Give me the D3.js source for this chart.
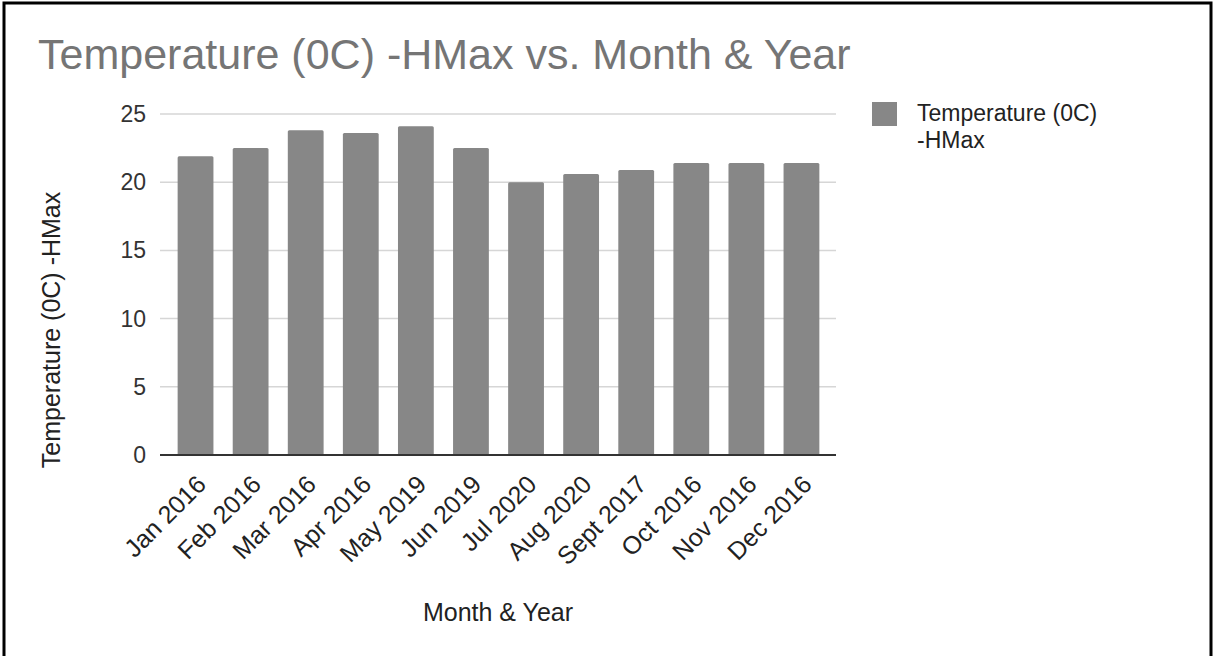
<!DOCTYPE html>
<html>
<head>
<meta charset="utf-8">
<script src="https://cdn.jsdelivr.net/npm/d3@7"></script>
<style>
  body { margin: 0; background: #fff; }
  text { font-family: "Liberation Sans", Arial, sans-serif; }
</style>
</head>
<body>
<script>
var months = ["Jan 2016", "Feb 2016", "Mar 2016", "Apr 2016", "May 2019", "Jun 2019",
              "Jul 2020", "Aug 2020", "Sept 2017", "Oct 2016", "Nov 2016", "Dec 2016"];
var hmax = [21.9, 22.5, 23.8, 23.6, 24.1, 22.5, 20.0, 20.6, 20.9, 21.4, 21.4, 21.4];
var yTicks = [0, 5, 10, 15, 20, 25];
var seriesName = "Temperature (0C) -HMax";

var width = 1225, height = 656;

var svg = d3.select("body")
            .append("svg")
            .attr("width", width)
            .attr("height", height);

svg.append("rect")
   .attr("width", width).attr("height", height)
   .style("fill", "#fff");

// frame: left, top, right (bottom is cut off in the picture)
svg.append("path")
   .attr("d", "M4,660 L4,3 L1211,3 L1211,660")
   .style("fill", "none")
   .style("stroke", "#000")
   .style("stroke-width", 3);

var plotLeft = 160, plotRight = 836, plotTop = 114, plotBottom = 455;

var x = d3.scaleBand()
          .domain(months)
          .range([168, 829])
          .paddingInner(0.35)
          .paddingOuter(0.175);

var y = d3.scaleLinear()
          .domain([0, 25])
          .range([plotBottom, plotTop]);

// gridlines
svg.append("g")
   .selectAll("line")
   .data(yTicks.filter(function(d) { return d > 0; }))
   .enter()
   .append("line")
   .attr("x1", plotLeft).attr("x2", plotRight)
   .attr("y1", function(d) { return y(d); })
   .attr("y2", function(d) { return y(d); })
   .style("stroke", "#d6d6d6")
   .style("stroke-width", 1.5);

// y tick labels
svg.append("g")
   .selectAll("text")
   .data(yTicks)
   .enter()
   .append("text")
   .attr("x", 146)
   .attr("y", function(d) { return y(d) + 8; })
   .attr("text-anchor", "end")
   .style("font-size", "23px")
   .style("fill", "#333")
   .text(function(d) { return d; });

// bars
svg.append("g")
   .selectAll("rect")
   .data(hmax)
   .enter()
   .append("rect")
   .attr("x", function(d, i) { return x(months[i]); })
   .attr("y", function(d) { return y(d); })
   .attr("width", x.bandwidth())
   .attr("height", function(d) { return y(0) - y(d); })
   .attr("rx", 1.5)
   .style("fill", "#878787");

// baseline
svg.append("line")
   .attr("x1", plotLeft).attr("x2", plotRight)
   .attr("y1", y(0)).attr("y2", y(0))
   .style("stroke", "#333")
   .style("stroke-width", 2);

// x tick labels, rotated
svg.append("g")
   .selectAll("text")
   .data(months)
   .enter()
   .append("text")
   .attr("transform", function(d) {
       var cx = x(d) + x.bandwidth() / 2 + 12;
       return "translate(" + cx + "," + 486 + ") rotate(-45)";
   })
   .attr("text-anchor", "end")
   .style("font-size", "25px")
   .style("fill", "#222")
   .text(function(d) { return d; });

// title
svg.append("text")
   .attr("x", 38).attr("y", 69)
   .style("font-size", "43px")
   .style("fill", "#757575")
   .text(seriesName + " vs. Month & Year");

// axis titles
svg.append("text")
   .attr("x", 498).attr("y", 621)
   .attr("text-anchor", "middle")
   .style("font-size", "25px")
   .style("fill", "#222")
   .text("Month & Year");

svg.append("text")
   .attr("transform", "translate(60,330) rotate(-90)")
   .attr("text-anchor", "middle")
   .style("font-size", "25px")
   .style("fill", "#222")
   .text(seriesName);

// legend
var legend = svg.append("g").attr("transform", "translate(872,102)");
legend.append("rect")
      .attr("width", 25).attr("height", 24)
      .style("fill", "#878787");
legend.append("text")
      .attr("x", 45).attr("y", 19)
      .style("font-size", "23px")
      .style("fill", "#222")
      .text("Temperature (0C)");
legend.append("text")
      .attr("x", 45).attr("y", 46)
      .style("font-size", "23px")
      .style("fill", "#222")
      .text("-HMax");
</script>
</body>
</html>
